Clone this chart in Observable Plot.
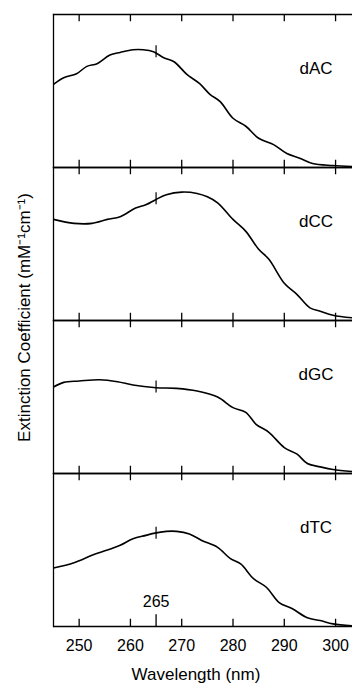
<!DOCTYPE html>
<html>
<head>
<meta charset="utf-8">
<script src="https://cdn.jsdelivr.net/npm/d3@7"></script>
<script src="https://cdn.jsdelivr.net/npm/@observablehq/plot@0.6"></script>
<style>
  html, body { margin: 0; padding: 0; background: #fff; }
</style>
</head>
<body>
<div id="chart"></div>
<script>
// ---- Data ----
const samples = ["dAC", "dCC", "dGC", "dTC"];

const wlAC  = [245, 247, 249.5, 251.5, 253.5, 256, 258, 260.5, 262.5, 264.5, 266.5, 268.5, 271, 273.5, 275.5, 277.5, 280, 282.5, 285, 288, 290.5, 293, 295.5, 299.5, 303.3];
const valAC = [12.5, 13.5, 14.1, 15.2, 15.6, 16.9, 17.3, 17.7, 17.7, 17.4, 16.5, 15.9, 14.0, 12.6, 11.0, 9.9, 7.4, 6.2, 4.4, 3.4, 2.1, 1.4, 0.6, 0.3, 0.15];

const wlCC  = [245, 249, 252.5, 255.5, 258, 261, 263, 265, 267, 270, 273, 275, 277, 280, 282.5, 285, 287, 290, 292.5, 295, 297, 299.5, 303.3];
const valCC = [15.2, 14.6, 14.6, 15.2, 15.6, 16.9, 17.4, 18.2, 18.9, 19.3, 19.1, 18.6, 17.7, 15.2, 13.4, 10.7, 9.2, 5.6, 3.9, 1.9, 1.4, 0.8, 0.4];

const wlGC  = [245, 247, 250, 254, 257.5, 260.5, 265, 269, 273, 277, 280, 282.5, 284.5, 287, 290, 292.5, 294.5, 297, 299.5, 303.3];
const valGC = [13.0, 13.7, 13.9, 14.1, 13.8, 13.3, 12.9, 12.8, 12.4, 11.5, 9.9, 9.2, 7.4, 6.2, 3.9, 2.9, 1.5, 1.0, 0.6, 0.3];

const wlTC  = [245, 249, 252.5, 255.5, 258, 260.5, 263, 264.5, 267, 269, 271.5, 274, 277, 279.5, 281.5, 284, 286.5, 289, 291.5, 294.5, 297, 299.5, 303.3];
const valTC = [8.8, 9.6, 10.7, 11.5, 12.2, 13.2, 13.7, 14.0, 14.3, 14.3, 13.9, 12.9, 11.9, 10.2, 9.4, 7.2, 5.9, 3.6, 2.7, 1.3, 0.9, 0.4, 0.1];

// value of each curve at the 265 nm marker
const at265 = [17.4, 18.3, 13.0, 14.0];
const markerWl = 265;

const xTicks = [250, 260, 270, 280, 290, 300];
const xDomain = [245, 303.3];
const yDomain = [0, 23];

const xLabel = "Wavelength (nm)";
const yLabel = "Extinction Coefficient (mM\u207B\u00B9cm\u207B\u00B9)";

// ---- Build tables ----
const series = [[wlAC, valAC], [wlCC, valCC], [wlGC, valGC], [wlTC, valTC]];
const rows = [];
series.forEach(([wl, val], i) => wl.forEach((w, j) => rows.push({sample: samples[i], wl: w, v: val[j]})));
const markers = samples.map((s, i) => ({sample: s, wl: markerWl, v: at265[i]}));
const lastSample = samples[samples.length - 1];

// ---- Layout ----
const W = 352, H = 684, mt = 13, mb = 58, ml = 53, mr = 0;
const facetH = (H - mt - mb) / samples.length;
const font = "'Liberation Sans', Arial, Helvetica, sans-serif";
const axisW = 1.3;

const chart = Plot.plot({
  width: W,
  height: H,
  marginTop: mt,
  marginBottom: mb,
  marginLeft: ml,
  marginRight: mr,
  style: {fontFamily: font, fontSize: "16px", background: "#fff", color: "#000"},
  x: {domain: xDomain, ticks: xTicks, tickSize: 0, tickPadding: 13, label: null},
  y: {domain: yDomain, axis: null},
  fy: {domain: samples, axis: null, padding: 0},
  marks: [
    Plot.frame({anchor: "left", strokeWidth: axisW}),
    Plot.frame({anchor: "top", strokeWidth: axisW}),
    Plot.ruleY([0], {strokeWidth: axisW}),
    // inward ticks at the bottom and top of every panel
    Plot.ruleX(xTicks, {insetTop: facetH - 7.5, strokeWidth: axisW}),
    Plot.ruleX(xTicks, {insetBottom: facetH - 7.5, strokeWidth: axisW}),
    // longer 265 nm tick on the bottom axis
    Plot.ruleX([{sample: lastSample, wl: markerWl}], {x: "wl", fy: "sample", insetTop: facetH - 12, strokeWidth: axisW}),
    Plot.text([{sample: lastSample, wl: markerWl, label: String(markerWl)}], {
      x: "wl", fy: "sample", text: "label", frameAnchor: "bottom", lineAnchor: "bottom", dy: -19.3, fontSize: 16
    }),
    // spectra
    Plot.line(rows, {x: "wl", y: "v", fy: "sample", stroke: "#000", strokeWidth: 1.6, curve: "catmull-rom", clip: true}),
    // 265 nm markers crossing each curve
    Plot.ruleX(markers, {x: "wl", y1: "v", y2: "v", fy: "sample", insetTop: -6, insetBottom: -6, strokeWidth: 1.2}),
    // sample labels
    Plot.text(samples, {
      fy: d => d, text: d => d, frameAnchor: "top-right", textAnchor: "middle", lineAnchor: "bottom",
      dx: -36.5, dy: 59, fontSize: 17
    }),
    // axis titles
    Plot.text([{sample: lastSample, label: xLabel}], {
      fy: "sample", text: "label", frameAnchor: "bottom", lineAnchor: "middle", dx: -7, dy: 48, fontSize: 17
    }),
    Plot.text([{sample: samples[1], label: yLabel}], {
      fy: "sample", text: "label", frameAnchor: "bottom-left", rotate: -90, textAnchor: "middle", lineAnchor: "middle",
      dx: -29, dy: -3, fontSize: 17
    })
  ]
});

document.getElementById("chart").appendChild(chart);
</script>
</body>
</html>
